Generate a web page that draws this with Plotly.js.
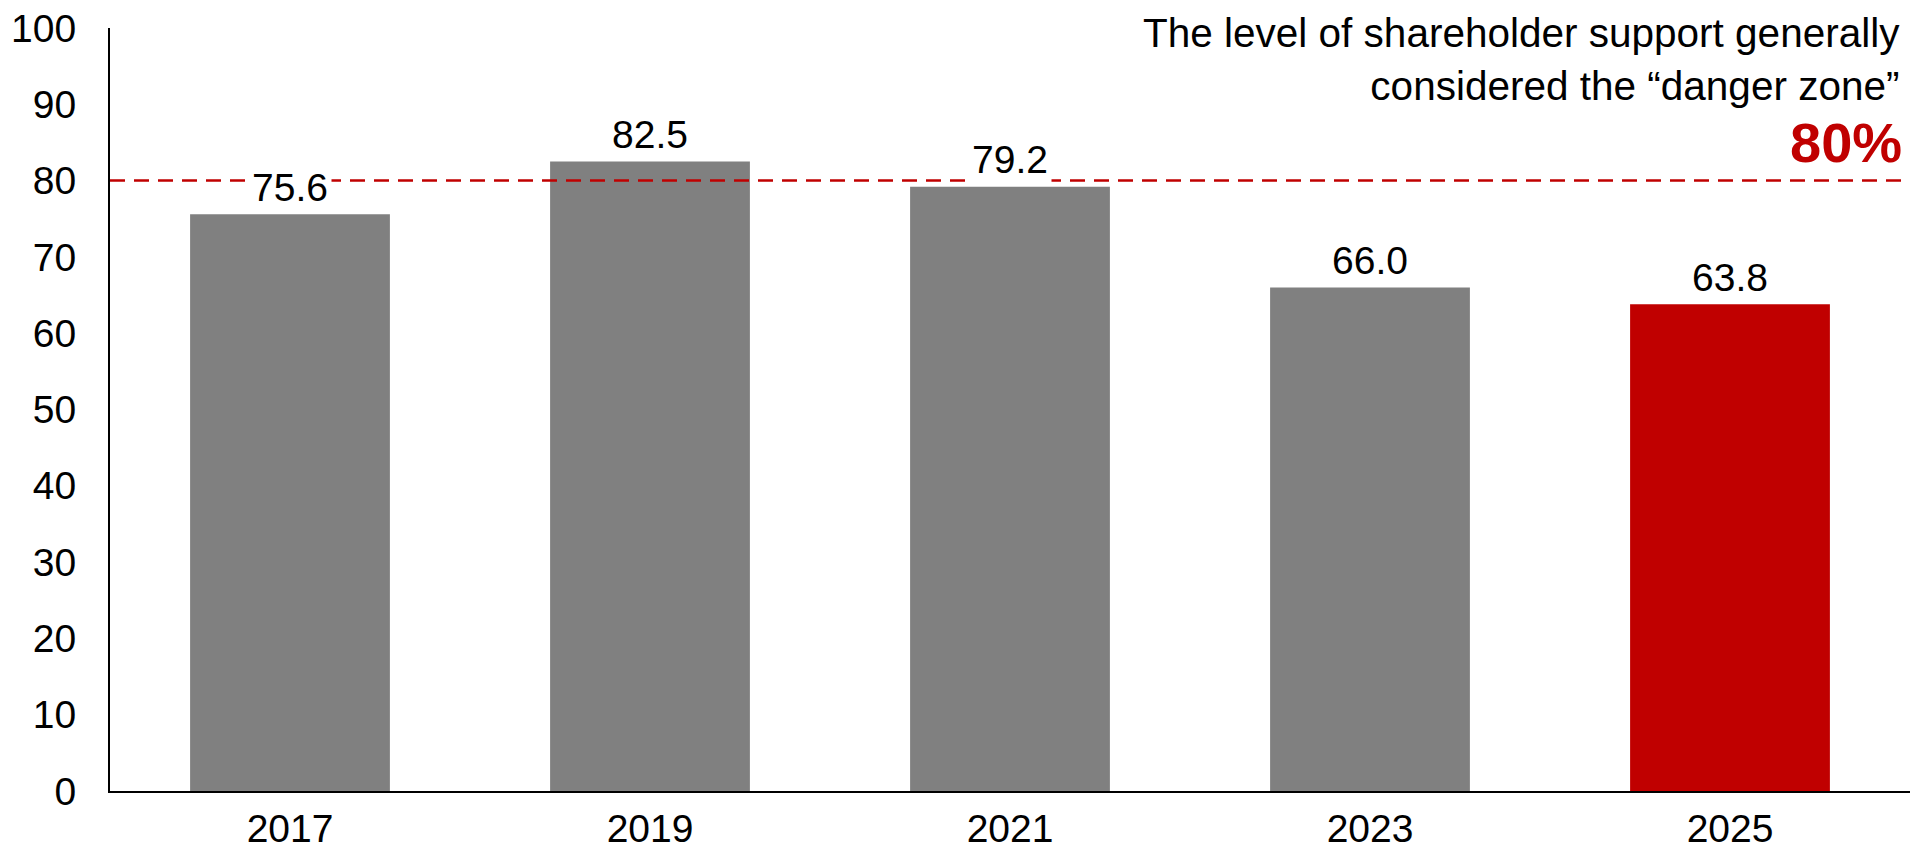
<!DOCTYPE html>
<html>
<head>
<meta charset="utf-8">
<script src="https://cdn.plot.ly/plotly-3.0.1.min.js"></script>
<style>
  html, body { margin: 0; padding: 0; background: #ffffff; }
  #chart { width: 1910px; height: 849px; }
</style>
</head>
<body>
<div id="chart"></div>
<script>
const years = ["2017", "2019", "2021", "2023", "2025"];
const support = [75.6, 82.5, 79.2, 66.0, 63.8];
const barColors = ["#808080", "#808080", "#808080", "#808080", "#C00000"];
const dangerLevel = 80;
const noteLines = ["The level of shareholder support generally", "considered the \u201cdanger zone\u201d"];
const dangerLabel = "80%";

const FONT = "'Liberation Sans', Arial, sans-serif";

const trace = {
  type: "bar",
  x: years,
  y: support,
  marker: { color: barColors, line: { width: 0 } },
  hoverinfo: "x+y"
};

const valueLabels = years.map((yr, i) => ({
  xref: "x", yref: "y",
  x: i, y: support[i],
  text: support[i].toFixed(1),
  showarrow: false,
  yanchor: "bottom",
  yshift: 1.5,
  bgcolor: "#ffffff",
  borderpad: 3,
  font: { family: FONT, size: 39, color: "#000000" }
}));

const layout = {
  width: 1910,
  height: 849,
  margin: { l: 110, r: 0, t: 28, b: 58, pad: 0 },
  paper_bgcolor: "#ffffff",
  plot_bgcolor: "#ffffff",
  bargap: 0.445,
  showlegend: false,
  font: { family: FONT, size: 39, color: "#000000" },
  xaxis: {
    type: "category",
    range: [-0.5, years.length - 0.5],
    autorange: false,
    showline: true,
    linecolor: "#000000",
    linewidth: 2,
    ticks: "",
    showgrid: false,
    zeroline: false,
    ticklabelstandoff: 2,
    tickfont: { family: FONT, size: 39, color: "#000000" }
  },
  yaxis: {
    range: [0, 100],
    autorange: false,
    dtick: 10,
    tick0: 0,
    showline: true,
    linecolor: "#000000",
    linewidth: 2,
    ticks: "",
    showgrid: false,
    zeroline: false,
    ticklabelstandoff: 24,
    tickfont: { family: FONT, size: 39, color: "#000000" }
  },
  shapes: [{
    type: "line",
    xref: "paper", yref: "y",
    x0: 0, x1: 1,
    y0: dangerLevel, y1: dangerLevel,
    layer: "above",
    line: { color: "#C00000", width: 2.5, dash: "15px,9px" }
  }],
  annotations: valueLabels.concat([
    {
      xref: "paper", yref: "paper",
      x: 1, y: 0.891,
      xanchor: "right", yanchor: "bottom",
      xshift: -8,
      align: "right",
      showarrow: false,
      text: noteLines.join("<br>"),
      font: { family: FONT, size: 40.5, color: "#000000" }
    },
    {
      xref: "paper", yref: "paper",
      x: 1, y: 0.806,
      xanchor: "right", yanchor: "bottom",
      xshift: -6,
      align: "right",
      showarrow: false,
      text: "<b>" + dangerLabel + "</b>",
      font: { family: FONT, size: 56, color: "#C00000" }
    }
  ])
};

Plotly.newPlot("chart", [trace], layout, { displayModeBar: false, staticPlot: true });
</script>
</body>
</html>
